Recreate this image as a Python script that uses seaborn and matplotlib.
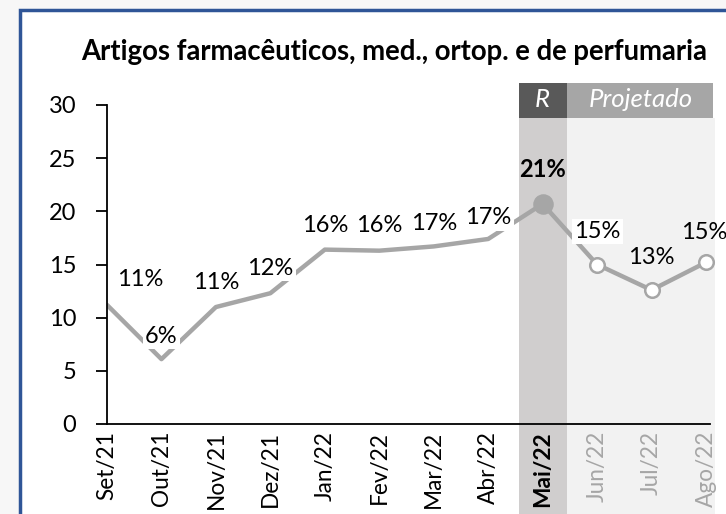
import numpy as np
import pandas as pd
import matplotlib
matplotlib.use('Agg')
import matplotlib.pyplot as plt
from matplotlib.patches import Rectangle
import seaborn as sns

# dados
meses = ['Set/21', 'Out/21', 'Nov/21', 'Dez/21', 'Jan/22', 'Fev/22',
         'Mar/22', 'Abr/22', 'Mai/22', 'Jun/22', 'Jul/22', 'Ago/22']
valores = [11.2, 6.1, 11.0, 12.3, 16.4, 16.3, 16.7, 17.4, 20.7, 15.0, 12.6, 15.2]
rotulos = ['11%', '6%', '11%', '12%', '16%', '16%', '17%', '17%', '21%', '15%', '13%', '15%']
titulo = 'Artigos farmacêuticos, med., ortop. e de perfumaria'

sns.set_style('ticks')
plt.rcParams['font.family'] = ['Lato', 'DejaVu Sans']
plt.rcParams['text.color'] = 'black'
plt.rcParams['xtick.color'] = 'black'
plt.rcParams['ytick.color'] = 'black'

df = pd.DataFrame({'x': np.arange(len(meses)), 'v': valores})

fig = plt.figure(figsize=(7.26, 5.14), dpi=100)
fig.patch.set_facecolor('#f7f7f7')
W, H = 726, 514
fig.patches.append(Rectangle((20 / W, -0.1), 1.0, 1.1 - 10 / H, transform=fig.transFigure,
                             facecolor='white', edgecolor='#2f5597', linewidth=2.5, zorder=-1))

ax = fig.add_axes([107 / W, 90 / H, (715 - 107) / W, (424 - 105) / H])
ax.set_zorder(2)
ax.set_facecolor('none')

step = (706 - 107) / 11
x_right = (715 - 107) / step
ax.set_xlim(0, x_right)
ax.set_ylim(0, 30)

# faixas de fundo
real = len(meses) - 4
proj0 = real + 0.44
ax.axvspan(real - 0.44, real + 0.44, ymin=-0.29, ymax=0.96, color='#d0cece', lw=0, clip_on=False, zorder=0)
ax.axvspan(proj0, x_right, ymin=-0.29, ymax=0.96, color='#f2f2f2', lw=0, clip_on=False, zorder=0)
ax.axvspan(real - 0.44, real + 0.44, ymin=0.96, ymax=1.07, color='#595959', lw=0, clip_on=False, zorder=0)
ax.axvspan(proj0 + 0.01, x_right - 0.03, ymin=0.96, ymax=1.07, color='#a6a6a6', lw=0, clip_on=False, zorder=0)
ax.text(real, 30.5, 'R', ha='center', va='center', color='white', fontsize=18.5, style='italic')
ax.text((proj0 + x_right) / 2, 30.5, 'Projetado', ha='center', va='center', color='white',
        fontsize=18.5, style='italic')

sns.lineplot(data=df, x='x', y='v', ax=ax, color='#a6a6a6', linewidth=3.2, zorder=2)
ax.scatter([real], [valores[real]], s=190, color='#a6a6a6', zorder=4)
ax.scatter(df['x'][real + 1:], df['v'][real + 1:], s=110, facecolor='white',
           edgecolor='#a6a6a6', linewidth=1.8, zorder=4)

offs = [(33, 25), (0, 23), (0, 25), (0, 25), (0, 24), (0, 25), (0, 23), (0, 21),
        (0, 34), (0, 33), (0, 33), (-2, 30)]
for i, (lab, (dx, dy)) in enumerate(zip(rotulos, offs)):
    kw = dict(textcoords='offset pixels', ha='center', va='center', fontsize=17, zorder=5)
    if i == real:
        kw['fontweight'] = 'bold'
    elif i in (real + 2, real + 3):
        pass
    else:
        kw['bbox'] = dict(boxstyle='square,pad=0.1', facecolor='white', edgecolor='none')
    ax.annotate(lab, (i, valores[i]), xytext=(dx, dy), **kw)

ax.set_xticks(df['x'])
ax.set_xticklabels(meses, rotation=90, fontsize=16.3)
for i, t in enumerate(ax.get_xticklabels()):
    if i == real:
        t.set_fontweight('bold')
    elif i > real:
        t.set_color('#a6a6a6')
ax.tick_params(axis='x', length=0, pad=5)
ax.set_yticks(range(0, 31, 5))
ax.tick_params(axis='y', labelsize=17, length=8, width=1.3, direction='out', pad=14)
ax.set_xlabel('')
ax.set_ylabel('')
for s in ['top', 'right']:
    ax.spines[s].set_visible(False)
for s in ['left', 'bottom']:
    ax.spines[s].set_linewidth(1.3)
    ax.spines[s].set_color('black')
ax.spines['bottom'].set_bounds(0, 11.08)

fig.text(394 / W, 1 - 52 / H, titulo, ha='center', va='center',
         fontsize=19.8, fontweight='bold')

fig.savefig('out.png', dpi=100, facecolor=fig.get_facecolor())
